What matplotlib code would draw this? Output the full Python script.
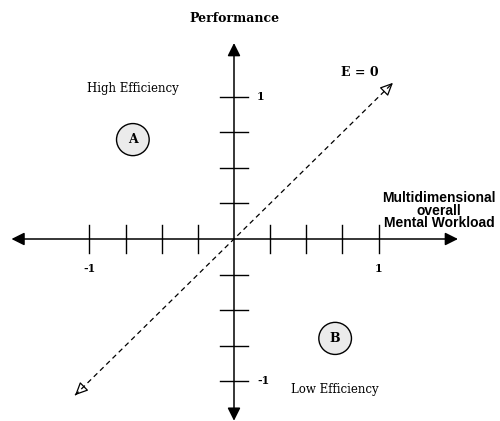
import matplotlib
matplotlib.use("Agg")
import matplotlib.pyplot as plt
from matplotlib.patches import Circle, FancyArrowPatch

# Data
x_ticks = [-1, -0.75, -0.5, -0.25, 0.25, 0.5, 0.75, 1]
y_ticks = [-1, -0.75, -0.5, -0.25, 0.25, 0.5, 0.75, 1]
x_tick_labels = {-1: "-1", 1: "1"}
y_tick_labels = {-1: "-1", 1: "1"}
points = {"A": (-0.7, 0.7), "B": (0.7, -0.7)}
quadrant_labels = [("High Efficiency", -0.7, 1.06), ("Low Efficiency", 0.7, -1.06)]
diag_x = [-1.1, 1.1]
diag_y = [-1.1, 1.1]

fig = plt.figure(figsize=(5.0, 4.21), dpi=100)
ax = fig.add_axes([0, 0, 1, 1])
ax.set_xlim(-234 / 144.5, 266 / 144.5)
ax.set_ylim(-182 / 142, 239 / 142)
ax.axis("off")

serif = "DejaVu Serif"

# Axes with arrows
ax.add_patch(FancyArrowPatch((-1.54, 0), (1.55, 0), arrowstyle="<|-|>,head_length=0.6,head_width=0.3",
                             mutation_scale=13, color="black", lw=1.1, shrinkA=0, shrinkB=0))
ax.add_patch(FancyArrowPatch((0, -1.28), (0, 1.38), arrowstyle="<|-|>,head_length=0.6,head_width=0.3",
                             mutation_scale=13, color="black", lw=1.1, shrinkA=0, shrinkB=0))

# Ticks
for t in x_ticks:
    ax.plot([t, t], [-0.1, 0.1], color="black", lw=1.0)
for t in y_ticks:
    ax.plot([-0.1, 0.1], [t, t], color="black", lw=1.0)

for t, lab in x_tick_labels.items():
    ax.text(t, -0.21, lab, ha="center", va="center", fontsize=8, fontweight="bold", family=serif)
for t, lab in y_tick_labels.items():
    ax.text(0.16, t, lab, ha="left", va="center", fontsize=8, fontweight="bold", family=serif)

# Diagonal dashed line with open arrowheads
ax.plot(diag_x, diag_y, color="black", lw=0.9, ls=(0, (4, 3)))
for (x0, y0), (x1, y1) in [((diag_x[1] - 0.05, diag_y[1] - 0.05), (diag_x[1], diag_y[1])),
                           ((diag_x[0] + 0.05, diag_y[0] + 0.05), (diag_x[0], diag_y[0]))]:
    ax.add_patch(FancyArrowPatch((x0, y0), (x1, y1), arrowstyle="-|>,head_length=0.6,head_width=0.28",
                                 mutation_scale=13, facecolor="white", edgecolor="black", lw=0.9,
                                 shrinkA=0, shrinkB=0))

# Points
for name, (px, py) in points.items():
    ax.add_patch(Circle((px, py), 0.113, facecolor="#ebebeb", edgecolor="black", lw=1.0))
    ax.text(px, py, name, ha="center", va="center", fontsize=9, fontweight="bold", family=serif)

for lab, lx, ly in quadrant_labels:
    ax.text(lx, ly, lab, ha="center", va="center", fontsize=8.5, family=serif)

ax.text(0, 1.55, "Performance", ha="center", va="center", fontsize=9, fontweight="bold", family=serif)
ax.text(0.87, 1.17, "E = 0", ha="center", va="center", fontsize=9, fontweight="bold", family=serif)
ax.text(1.42, 0.2, "Multidimensional\noverall\nMental Workload", ha="center", va="center",
        fontsize=10, fontweight="bold", family="Liberation Sans", linespacing=0.9)

fig.savefig("out.png", dpi=100)
